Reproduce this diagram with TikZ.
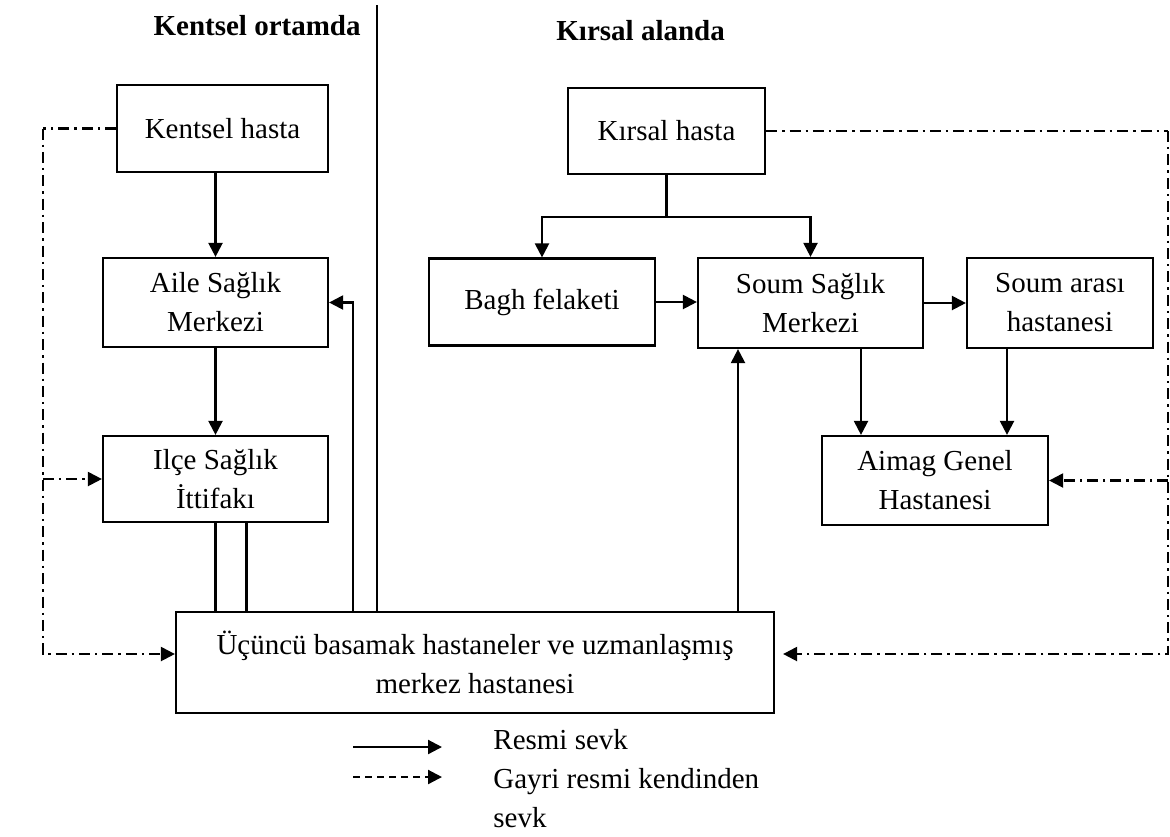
\documentclass[tikz,border=0pt]{standalone}
\usepackage{fontspec}
\setmainfont{Liberation Serif}
\usepackage{tikz}
\usetikzlibrary{arrows.meta, calc}

\tikzset{
    every node/.style={font=\fontsize{14.5}{19.5}\selectfont},
    kutu/.style={draw, line width=1.1pt, align=center, inner sep=2pt},
    baslik/.style={inner sep=0pt, font=\fontsize{14.5}{19.5}\selectfont\bfseries},
    ok/.style={line width=1.1pt, -{Triangle[length=7pt,width=7pt]}},
    gayri/.style={line width=1.1pt, dash pattern=on 5.5pt off 2.5pt on 1.2pt off 2.5pt},
}

\begin{document}
\begin{tikzpicture}[x=0.5pt, y=-0.5pt]
        \useasboundingbox (0,0) rectangle (1170,836);

        \node[baslik, anchor=base east] (bk) at (361,35) {Kentsel ortamda};
        \node[baslik, anchor=base west] (bkr) at (556,40) {Kırsal alanda};
        \draw[line width=0.6pt] (377,5) -- (377,612);

        \node[kutu, minimum width=105.5pt, minimum height=43.5pt] (kh) at (222.5,128.5) {Kentsel hasta};
        \node[kutu, minimum width=112.5pt, minimum height=44.5pt] (aile) at (215.5,302.5) {Aile Sağlık\\Merkezi};
        \node[kutu, minimum width=112.5pt, minimum height=43pt] (ilce) at (215.5,479) {Ilçe Sağlık\\İttifakı};

        \node[kutu, minimum width=98.5pt, minimum height=43pt] (kr) at (666.5,131) {Kırsal hasta};
        \node[kutu, minimum width=113pt, minimum height=43.5pt] (bagh) at (542,302) {Bagh felaketi};
        \node[kutu, minimum width=112.5pt, minimum height=45pt] (soum) at (810.5,303) {Soum Sağlık\\Merkezi};
        \node[kutu, minimum width=93pt, minimum height=45pt] (sa) at (1060,303) {Soum arası\\hastanesi};
        \node[kutu, minimum width=113pt, minimum height=44.5pt] (aimag) at (935,480.5) {Aimag Genel\\Hastanesi};

        \node[kutu, minimum width=299pt, minimum height=50.5pt] (ust) at (475,662.5) {Üçüncü basamak hastaneler ve uzmanlaşmış\\merkez hastanesi};

        \draw[ok] (kh.south -| aile.north) -- (aile.north);
        \draw[ok] (aile.south) -- (ilce.north);
        \draw[line width=1.1pt] (ilce.south) -- (ilce.south |- ust.north);
        \draw[line width=1.1pt] ($(ilce.south)+(15.5pt,0)$) -- ($(ilce.south |- ust.north)+(15.5pt,0)$);
        \draw[ok] ($(aile.east |- ust.north)+(12pt,0)$) |- (aile.east);

        \draw[line width=1.1pt] (kr.south) -- ++(0,-20.75pt) coordinate (kj);
        \draw[ok] (kj) -| (bagh.north);
        \draw[ok] (kj) -| (soum.north);
        \draw[ok] (bagh.east) -- (bagh.east -| soum.west);
        \draw[ok] (soum.east) -- (sa.west);
        \draw[ok] ($(soum.south)+(25.25pt,0)$) -- ($(aimag.north)+(-37pt,0)$);
        \draw[ok] ($(sa.south)+(-26.5pt,0)$) -- ($(aimag.north)+(36pt,0)$);
        \draw[ok] ($(ust.north)+(131.5pt,0)$) -- ($(soum.south)+(-36.25pt,0)$);

        \draw[gayri] (kh.west) -- ++(-36.5pt,0) coordinate (sl);
        \draw[gayri, ok] (sl) |- ($(ust.west)+(0,4.25pt)$);
        \draw[gayri, ok] (sl |- ilce.west) -- (ilce.west);
        \draw[gayri] (kr.east) -- ++(201pt,0) coordinate (sr);
        \draw[gayri, ok] (sr) |- ($(ust.east)+(4pt,4.25pt)$);
        \draw[gayri, ok] (sr |- aimag.east) -- (aimag.east);

        \coordinate (l1s) at (353,747);
        \coordinate (l1e) at (442,747);
        \coordinate (l2s) at (353,777);
        \coordinate (l2e) at (442,777);
        \draw[ok] (l1s) -- (l1e);
        \draw[ok, dash pattern=on 3.5pt off 2.5pt] (l2s) -- (l2e);
        \node[inner sep=0pt, anchor=base west] (lg1) at (493,749) {Resmi sevk};
        \node[inner sep=0pt, anchor=base west, align=left] (lg2) at (493,827) {Gayri resmi kendinden\\sevk};

    \end{tikzpicture}
\end{document}
